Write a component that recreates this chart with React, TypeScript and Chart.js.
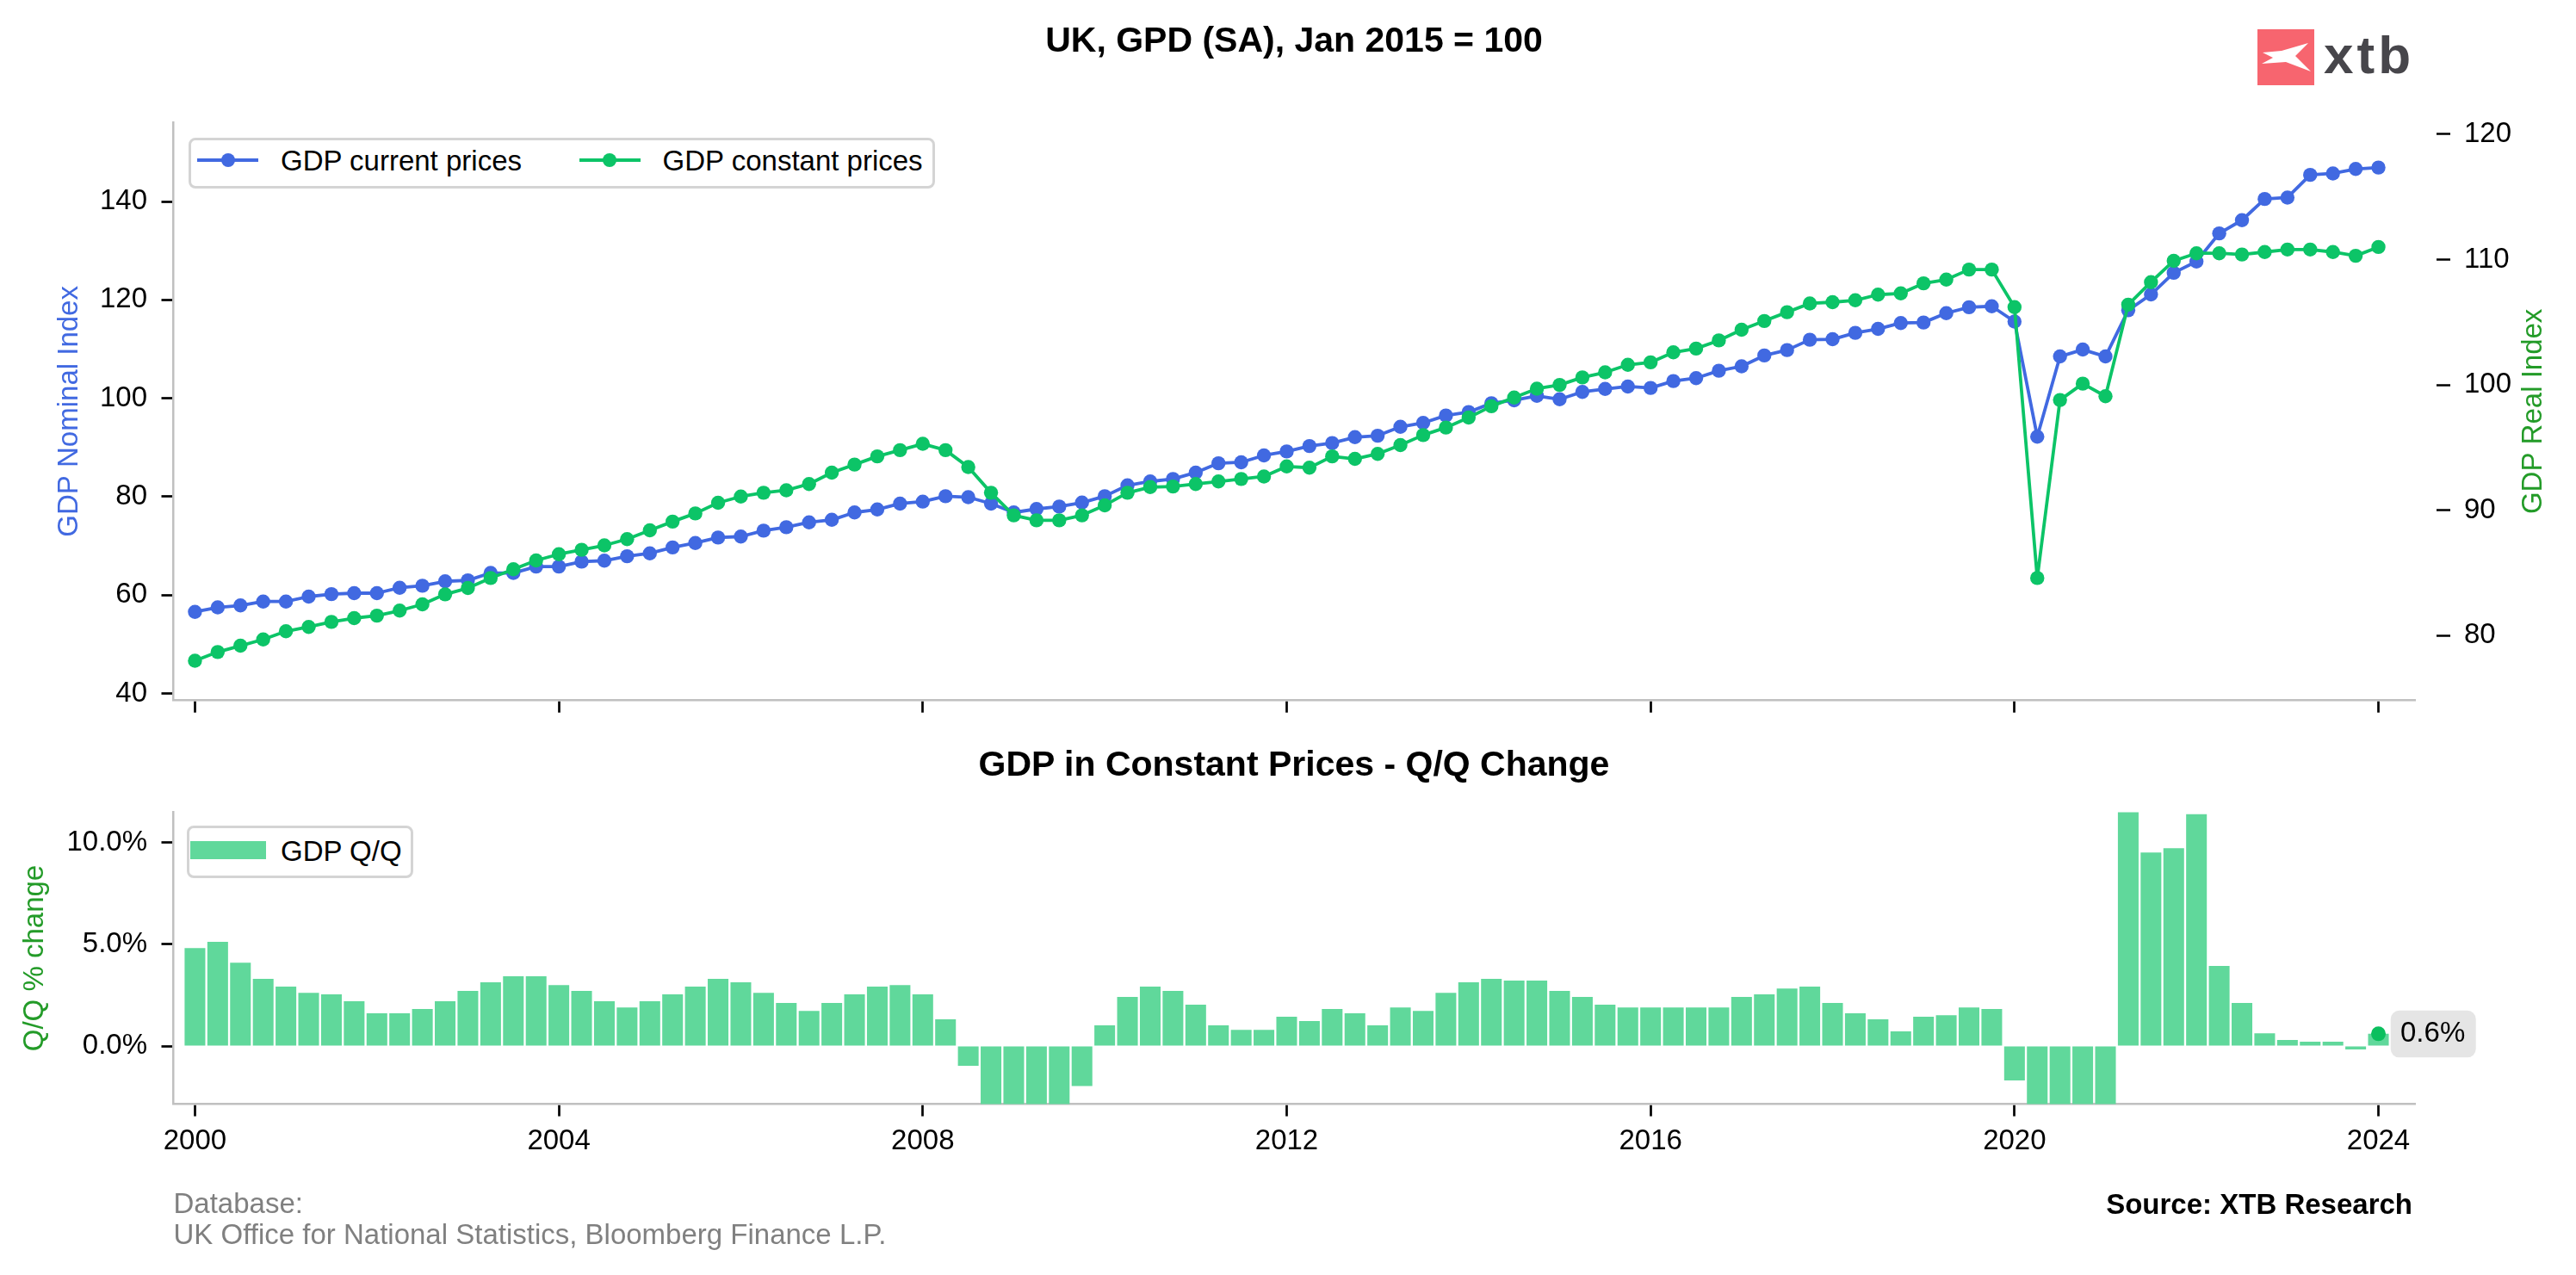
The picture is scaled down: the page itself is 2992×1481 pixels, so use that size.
import React, { useEffect, useRef } from 'react';
import { Chart, registerables } from 'chart.js';

Chart.register(...registerables);

const FONT = "'Liberation Sans', Arial, Helvetica, sans-serif";
const TEXT_SIZE = 33;

// ---- data (quarterly, 2000 Q1 .. 2024 Q1) ----
const START_YEAR = 2000;
const QUARTER_STEP = 0.25;

const GDP_CURRENT = [
  56.6, 57.5, 57.9, 58.7, 58.7, 59.7, 60.2, 60.4, 60.4, 61.5, 61.9, 62.8, 63.0, 64.5, 64.5, 65.8,
  65.8, 66.8, 67.0, 67.9, 68.5, 69.7, 70.6, 71.7, 71.9, 73.1, 73.8, 74.8, 75.3, 76.8, 77.4, 78.6,
  79.0, 80.1, 79.9, 78.6, 76.8, 77.5, 78.0, 78.8, 80.1, 82.3, 83.1, 83.6, 84.9, 86.8, 87.0, 88.4,
  89.2, 90.3, 90.9, 92.1, 92.4, 94.2, 95.0, 96.5, 97.2, 99.0, 99.6, 100.5, 99.8, 101.3, 101.9, 102.4,
  102.1, 103.5, 104.1, 105.6, 106.5, 108.7, 109.8, 111.9, 112.0, 113.3, 114.1, 115.3, 115.4, 117.3, 118.5, 118.7,
  115.6, 92.2, 108.5, 109.9, 108.5, 117.9, 121.1, 125.5, 127.8, 133.5, 136.2, 140.5, 140.8, 145.4, 145.7, 146.6,
  146.9,
];

const GDP_CONSTANT = [
  78.0, 78.7, 79.2, 79.7, 80.35, 80.7, 81.1, 81.4, 81.6, 82.0, 82.5, 83.3, 83.8, 84.6, 85.3, 86.0,
  86.5, 86.85, 87.2, 87.7, 88.4, 89.1, 89.75, 90.6, 91.1, 91.4, 91.6, 92.1, 93.0, 93.65, 94.3, 94.8,
  95.3, 94.8, 93.45, 91.4, 89.6, 89.2, 89.2, 89.6, 90.4, 91.4, 91.85, 91.9, 92.1, 92.3, 92.5, 92.7,
  93.5, 93.4, 94.3, 94.1, 94.5, 95.2, 96.0, 96.6, 97.4, 98.3, 99.0, 99.7, 100.0, 100.6, 101.0, 101.6,
  101.8, 102.6, 102.9, 103.55, 104.4, 105.1, 105.8, 106.5, 106.6, 106.75, 107.2, 107.3, 108.1, 108.4, 109.2, 109.2,
  106.2, 84.6, 98.8, 100.1, 99.1, 106.4, 108.2, 109.9, 110.5, 110.5, 110.4, 110.6, 110.8, 110.8, 110.6, 110.3,
  111.0,
];

const GDP_QQ = [
  4.82, 5.12, 4.1, 3.3, 2.92, 2.62, 2.54, 2.2, 1.61, 1.61, 1.82, 2.2, 2.71, 3.13, 3.43, 3.43,
  3.0, 2.71, 2.2, 1.9, 2.2, 2.54, 2.92, 3.3, 3.13, 2.62, 2.12, 1.73, 2.12, 2.54, 2.92, 3.0,
  2.54, 1.31, -0.97, -3.6, -6.0, -5.9, -4.5, -1.97, 1.02, 2.41, 2.92, 2.71, 2.03, 1.02, 0.8, 0.8,
  1.44, 1.23, 1.82, 1.61, 1.02, 1.9, 1.73, 2.62, 3.13, 3.3, 3.22, 3.22, 2.71, 2.41, 2.03, 1.9,
  1.9, 1.9, 1.9, 1.9, 2.41, 2.54, 2.83, 2.92, 2.12, 1.61, 1.31, 0.72, 1.44, 1.52, 1.9, 1.82,
  -1.69, -22.5, -9.5, -8.3, -6.7, 25.8, 9.52, 9.73, 11.4, 3.94, 2.12, 0.63, 0.3, 0.21, 0.21, -0.17,
  0.6,
];

const QUARTERS = GDP_CURRENT.map((_, i) => START_YEAR + i * QUARTER_STEP);

const YEAR_TICKS = [2000, 2004, 2008, 2012, 2016, 2020, 2024];
const NOMINAL_TICKS = [40, 60, 80, 100, 120, 140];
const REAL_TICKS = [80, 90, 100, 110, 120];
const QQ_TICKS = [0, 5, 10];

const X_MIN = 1999.764;
const X_MAX = 2024.402;
const NOMINAL_MIN = 38.58;
const NOMINAL_MAX = 156.1;
const REAL_MIN = 74.83;
const REAL_MAX = 120.95;
const QQ_MIN = -2.86;
const QQ_MAX = 11.5;

const TITLE = 'UK, GPD (SA), Jan 2015 = 100';
const SUBTITLE = 'GDP in Constant Prices - Q/Q Change';
const LABEL_CURRENT = 'GDP current prices';
const LABEL_CONSTANT = 'GDP constant prices';
const LABEL_QQ = 'GDP Q/Q';
const AXIS_NOMINAL = 'GDP Nominal Index';
const AXIS_REAL = 'GDP Real Index';
const AXIS_QQ = 'Q/Q % change';
const FOOT_DB_1 = 'Database:';
const FOOT_DB_2 = 'UK Office for National Statistics, Bloomberg Finance L.P.';
const FOOT_SOURCE = 'Source: XTB Research';

// ---- styles ----
const BLUE = '#4169e1';
const GREEN = '#0cc467';
const BAR = '#60d89b';
const DOT_GREEN = '#0bbf5e';
const AXIS_GREEN = '#239b28';
const SPINE = '#c0c0c0';
const LINE_W = 3.8;
const DOT_R = 8.2;
const W = 2992;
const H = 1481;
const TOP_H = 850;
const BOT_H = H - TOP_H;

const fixedTicks = (values: number[]) => (scale: any) => {
  scale.ticks = values.map((v) => ({ value: v }));
};

const tickGrid = (len: number) => ({
  display: true,
  drawOnChartArea: false,
  drawTicks: true,
  tickLength: len,
  tickWidth: 2.7,
  tickColor: '#000',
});

const spine = { display: true, color: SPINE, width: 2.5 };

const rightTitlePlugin = {
  id: 'rightTitle',
  afterDraw(chart: any) {
    const s = chart.scales.yReal;
    if (!s) return;
    const ctx = chart.ctx;
    ctx.save();
    ctx.translate(s.right - 49.5, (chart.chartArea.top + chart.chartArea.bottom) / 2);
    ctx.rotate(-Math.PI / 2);
    ctx.font = `${TEXT_SIZE}px ${FONT}`;
    ctx.fillStyle = AXIS_GREEN;
    ctx.textAlign = 'center';
    ctx.textBaseline = 'middle';
    ctx.fillText(AXIS_REAL, 0, 0);
    ctx.restore();
  },
};

const lastLabelPlugin = {
  id: 'lastLabel',
  afterDatasetsDraw(chart: any) {
    const meta = chart.getDatasetMeta(0);
    const pt = meta && meta.data && meta.data[0];
    if (!pt) return;
    const ctx = chart.ctx;
    const bx = pt.x + 14.2;
    const by = pt.y - 27;
    ctx.save();
    ctx.fillStyle = '#e5e5e5';
    ctx.beginPath();
    ctx.roundRect(bx, by, 99, 54.5, 10);
    ctx.fill();
    ctx.fillStyle = '#000';
    ctx.font = `${TEXT_SIZE}px ${FONT}`;
    ctx.textAlign = 'left';
    ctx.textBaseline = 'alphabetic';
    const v = GDP_QQ[GDP_QQ.length - 1];
    ctx.fillText(`${v.toFixed(1)}%`, bx + 11.3, pt.y + 9);
    ctx.restore();
  },
};

function textTop(baseline: number, size: number) {
  return baseline - 0.8465 * size;
}

export default function App() {
  const topRef = useRef<HTMLCanvasElement>(null);
  const botRef = useRef<HTMLCanvasElement>(null);

  useEffect(() => {
    Chart.defaults.font.family = FONT;
    Chart.defaults.font.size = TEXT_SIZE;
    Chart.defaults.color = '#000';

    const lineStyle = (color: string) => ({
      borderColor: color,
      backgroundColor: color,
      pointBackgroundColor: color,
      pointBorderColor: color,
      borderWidth: LINE_W,
      borderJoinStyle: 'round',
      borderCapStyle: 'round',
      pointRadius: DOT_R,
      pointHoverRadius: DOT_R,
      pointBorderWidth: 0,
      tension: 0,
    });

    const top = new Chart(topRef.current as HTMLCanvasElement, {
      type: 'line',
      data: {
        datasets: [
          {
            label: LABEL_CONSTANT,
            data: QUARTERS.map((x, i) => ({ x, y: GDP_CONSTANT[i] })),
            yAxisID: 'yReal',
            ...lineStyle(GREEN),
            order: 0,
          },
          {
            label: LABEL_CURRENT,
            data: QUARTERS.map((x, i) => ({ x, y: GDP_CURRENT[i] })),
            yAxisID: 'yNominal',
            ...lineStyle(BLUE),
            order: 1,
          },
        ],
      },
      options: {
        responsive: false,
        animation: false,
        events: [],
        layout: { padding: { top: 142, left: 0, right: 0, bottom: 0 } },
        plugins: { legend: { display: false }, tooltip: { enabled: false } },
        scales: {
          x: {
            type: 'linear',
            min: X_MIN,
            max: X_MAX,
            afterBuildTicks: fixedTicks(YEAR_TICKS),
            afterFit: (s: any) => {
              s.height = TOP_H - 818.6;
            },
            ticks: { display: false },
            grid: tickGrid(14) as any,
            border: spine,
          },
          yNominal: {
            type: 'linear',
            position: 'left',
            min: NOMINAL_MIN,
            max: NOMINAL_MAX,
            afterBuildTicks: fixedTicks(NOMINAL_TICKS),
            afterFit: (s: any) => {
              s.width = 201.5;
            },
            ticks: { padding: 16.5, color: '#000', font: { size: TEXT_SIZE } },
            grid: tickGrid(14) as any,
            border: spine,
            title: {
              display: true,
              text: AXIS_NOMINAL,
              color: BLUE,
              font: { size: TEXT_SIZE },
              padding: { top: 61, bottom: 0 },
            },
          },
          yReal: {
            type: 'linear',
            position: 'right',
            min: REAL_MIN,
            max: REAL_MAX,
            afterBuildTicks: fixedTicks(REAL_TICKS),
            afterFit: (s: any) => {
              s.width = W - 2805;
            },
            ticks: { padding: 16, color: '#000', font: { size: TEXT_SIZE } },
            grid: { ...tickGrid(41), tickBorderDash: [0, 25, 16, 200] } as any,
            border: { display: false },
          },
        },
      },
      plugins: [rightTitlePlugin],
    } as any);

    const last = GDP_QQ.length - 1;
    const bot = new Chart(botRef.current as HTMLCanvasElement, {
      type: 'bar',
      data: {
        datasets: [
          {
            type: 'line',
            label: 'latest',
            data: [{ x: QUARTERS[last], y: GDP_QQ[last] }],
            showLine: false,
            pointRadius: 8.5,
            pointHoverRadius: 8.5,
            pointBorderWidth: 0,
            pointBackgroundColor: DOT_GREEN,
            backgroundColor: DOT_GREEN,
            borderColor: DOT_GREEN,
            order: 0,
          },
          {
            type: 'bar',
            label: LABEL_QQ,
            data: QUARTERS.map((x, i) => ({ x, y: GDP_QQ[i] })),
            backgroundColor: BAR,
            borderWidth: 0,
            barPercentage: 0.91,
            categoryPercentage: 1,
            order: 1,
          },
        ],
      },
      options: {
        responsive: false,
        animation: false,
        events: [],
        layout: { padding: { top: 943.4 - TOP_H, left: 0, right: W - 2805, bottom: BOT_H - (1282.6 - TOP_H) - 60 } },
        plugins: { legend: { display: false }, tooltip: { enabled: false } },
        scales: {
          x: {
            type: 'linear',
            min: X_MIN,
            max: X_MAX,
            offset: false,
            afterBuildTicks: fixedTicks(YEAR_TICKS),
            afterFit: (s: any) => {
              s.height = 60;
            },
            ticks: {
              padding: 9.2,
              autoSkip: false,
              maxRotation: 0,
              color: '#000',
              font: { size: TEXT_SIZE },
              callback: (v: any) => String(v),
            },
            grid: { ...tickGrid(14), offset: false } as any,
            border: spine,
          },
          y: {
            type: 'linear',
            position: 'left',
            min: QQ_MIN,
            max: QQ_MAX,
            afterBuildTicks: fixedTicks(QQ_TICKS),
            afterFit: (s: any) => {
              s.width = 201.5;
            },
            ticks: {
              padding: 16.5,
              color: '#000',
              font: { size: TEXT_SIZE },
              callback: (v: any) => `${Number(v).toFixed(1)}%`,
            },
            grid: tickGrid(14) as any,
            border: spine,
            title: {
              display: true,
              text: AXIS_QQ,
              color: AXIS_GREEN,
              font: { size: TEXT_SIZE },
              padding: { top: 20.7, bottom: 0 },
            },
          },
        },
      },
      plugins: [lastLabelPlugin],
    } as any);

    return () => {
      top.destroy();
      bot.destroy();
    };
  }, []);

  const abs = (s: React.CSSProperties): React.CSSProperties => ({ position: 'absolute', ...s });
  const txt = (size: number, bold = false): React.CSSProperties => ({
    fontFamily: FONT,
    fontSize: size,
    lineHeight: `${size}px`,
    fontWeight: bold ? 700 : 400,
    whiteSpace: 'nowrap',
  });

  return (
    <div style={{ position: 'absolute', left: 0, top: 0, width: W, height: H, background: '#fff', overflow: 'hidden' }}>
      <canvas ref={topRef} width={W} height={TOP_H} style={abs({ left: 0, top: 0, width: W, height: TOP_H })} />
      <canvas ref={botRef} width={W} height={BOT_H} style={abs({ left: 0, top: TOP_H, width: W, height: BOT_H })} />

      {/* titles */}
      <div style={abs({ left: 1503, top: textTop(60.7, 41), transform: 'translateX(-50%)', ...txt(41, true), color: '#000' })}>{TITLE}</div>
      <div style={abs({ left: 1503, top: textTop(901.5, 41), transform: 'translateX(-50%)', ...txt(41, true), color: '#000' })}>{SUBTITLE}</div>

      {/* logo */}
      <div style={abs({ left: 2622, top: 34, width: 66, height: 65, background: '#f7656f' })}>
        <svg width={66} height={65} viewBox="0 0 66 65" style={{ display: 'block' }}>
          <polygon points="6,27 28,25 59,16 44,31 62,49 33,38 5,40 18,33" fill="#fff" />
        </svg>
      </div>
      <div style={abs({ left: 2699, top: textTop(85, 62), ...txt(62, true), color: '#47464b', letterSpacing: 4 })}>xtb</div>

      {/* top legend */}
      <div style={abs({ left: 219, top: 160, width: 867, height: 58.5, border: '3px solid #d4d4d4', borderRadius: 8, boxSizing: 'border-box', background: '#fff' })} />
      <div style={abs({ left: 229, top: 186 - LINE_W / 2, width: 71, height: LINE_W, background: BLUE })} />
      <div style={abs({ left: 265 - DOT_R, top: 186 - DOT_R, width: DOT_R * 2, height: DOT_R * 2, borderRadius: '50%', background: BLUE })} />
      <div style={abs({ left: 326, top: textTop(198, TEXT_SIZE), ...txt(TEXT_SIZE), color: '#000' })}>{LABEL_CURRENT}</div>
      <div style={abs({ left: 672.5, top: 186 - LINE_W / 2, width: 71, height: LINE_W, background: GREEN })} />
      <div style={abs({ left: 708 - DOT_R, top: 186 - DOT_R, width: DOT_R * 2, height: DOT_R * 2, borderRadius: '50%', background: GREEN })} />
      <div style={abs({ left: 769.6, top: textTop(198, TEXT_SIZE), ...txt(TEXT_SIZE), color: '#000' })}>{LABEL_CONSTANT}</div>

      {/* bottom legend */}
      <div style={abs({ left: 216.6, top: 959.3, width: 263.4, height: 60.7, border: '3px solid #d4d4d4', borderRadius: 8, boxSizing: 'border-box', background: '#fff' })} />
      <div style={abs({ left: 220.7, top: 977, width: 88, height: 21, background: BAR })} />
      <div style={abs({ left: 326, top: textTop(1000, TEXT_SIZE), ...txt(TEXT_SIZE), color: '#000' })}>{LABEL_QQ}</div>

      {/* footer */}
      <div style={abs({ left: 201.5, top: textTop(1409.3, TEXT_SIZE), ...txt(TEXT_SIZE), color: '#808080' })}>{FOOT_DB_1}</div>
      <div style={abs({ left: 201.5, top: textTop(1444.8, TEXT_SIZE), ...txt(TEXT_SIZE), color: '#808080' })}>{FOOT_DB_2}</div>
      <div style={abs({ right: W - 2802, top: textTop(1410, TEXT_SIZE), ...txt(TEXT_SIZE, true), color: '#000' })}>{FOOT_SOURCE}</div>
    </div>
  );
}
